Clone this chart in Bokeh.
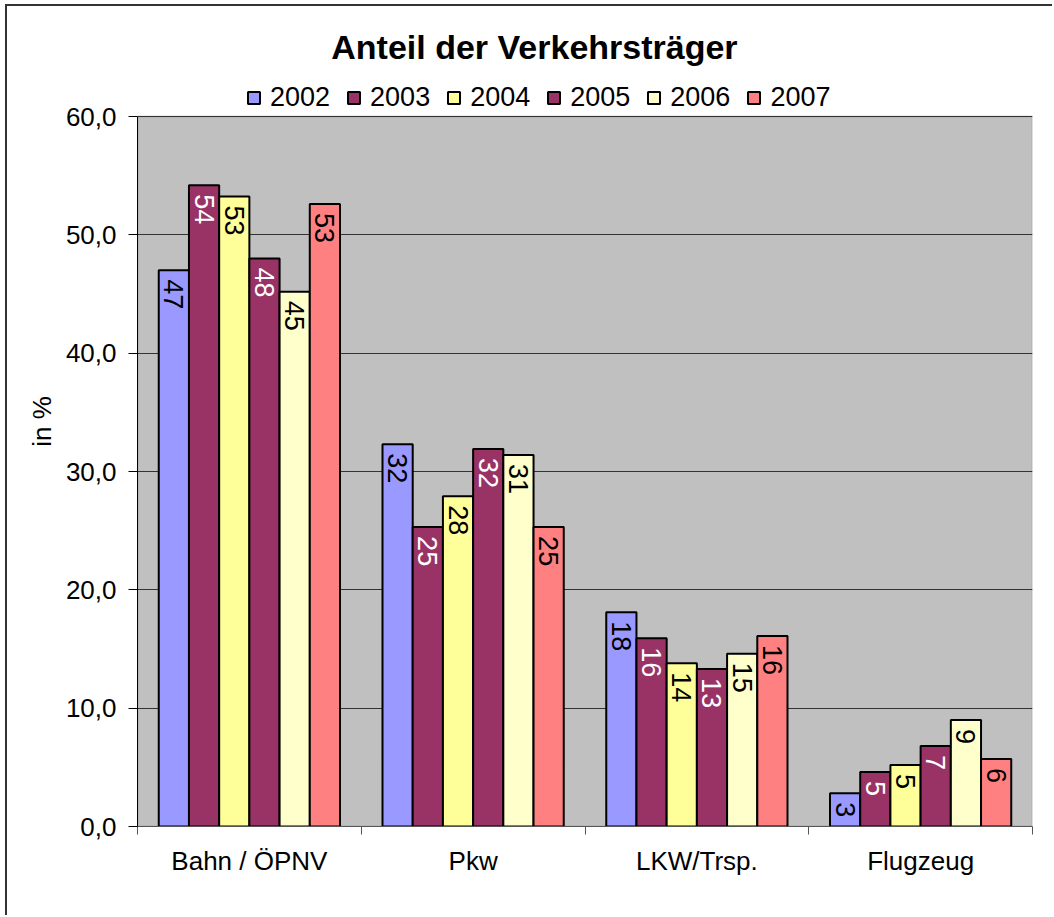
import math
import numpy as np
from bokeh.plotting import figure
from bokeh.models import (ColumnDataSource, Range1d, FixedTicker, CustomJSTickFormatter,
                          Legend, LegendItem, Label, BoxAnnotation)
from bokeh.transform import dodge
from bokeh.core.properties import value
from bokeh.embed import file_html
from bokeh.resources import INLINE

# ---- data ----
categories = ["Bahn / ÖPNV", "Pkw", "LKW/Trsp.", "Flugzeug"]
years = ["2002", "2003", "2004", "2005", "2006", "2007"]
v2002 = [47.0, 32.3, 18.1, 2.8]
v2003 = [54.2, 25.3, 15.9, 4.6]
v2004 = [53.25, 27.9, 13.8, 5.2]
v2005 = [48.0, 31.9, 13.3, 6.8]
v2006 = [45.2, 31.4, 14.6, 9.0]
v2007 = [52.6, 25.3, 16.1, 5.7]
y_ticks = [0, 10, 20, 30, 40, 50, 60]

series = [v2002, v2003, v2004, v2005, v2006, v2007]
colors = ["#9999FF", "#993366", "#FFFF99", "#993366", "#FFFFCC", "#FF8080"]
label_colors = ["black", "white", "black", "white", "black", "black"]

FONT = "Liberation Sans"

data = {"pos": [i + 0.5 for i in range(len(categories))]}
for y, vals in zip(years, series):
    data[y] = vals
    data["lab" + y] = [str(int(round(v))) for v in vals]
src = ColumnDataSource(data)

# layout (pixels): gray plotting area 710 px tall for 0..60; frame extended upward
Y_MAX = 60
PLOT_H = 710
EXTRA = 100  # white space inside the frame above the gray area (title + legend)
y_top = Y_MAX * (PLOT_H + EXTRA) / PLOT_H

p = figure(width=1047, height=911, output_backend="svg", toolbar_location=None,
           x_range=Range1d(0, len(categories)), y_range=Range1d(0, y_top),
           min_border_left=130, min_border_right=22, min_border_top=10, min_border_bottom=91)
p.styles = {"border-left": "2px solid #333333", "border-top": "2px solid #333333",
            "margin-left": "5px", "margin-top": "4px"}
p.background_fill_color = "white"
p.border_fill_color = "white"
p.outline_line_color = None

# gray plotting area
p.add_layout(BoxAnnotation(left=0, right=len(categories), bottom=0, top=Y_MAX,
                           fill_color="#C0C0C0", fill_alpha=1.0,
                           line_color="#808080", line_width=2, level="image"))

# grid
p.xgrid.grid_line_color = None
p.ygrid.ticker = FixedTicker(ticks=y_ticks)
p.ygrid.grid_line_color = "#333333"
p.ygrid.grid_line_width = 1

# y axis
p.yaxis.ticker = FixedTicker(ticks=y_ticks)
p.yaxis.bounds = (0, Y_MAX)
p.yaxis.formatter = CustomJSTickFormatter(code="return tick.toFixed(1).replace('.', ',');")
p.yaxis.major_label_text_font = FONT
p.yaxis.major_label_text_font_size = "26px"
p.yaxis.major_label_text_color = "black"
p.yaxis.major_tick_out = 9
p.yaxis.major_tick_in = 0
p.yaxis.minor_tick_line_color = None
p.yaxis.major_label_standoff = 12
p.yaxis.axis_line_color = "black"
p.yaxis.axis_line_width = 1
p.yaxis.axis_label = "in %"
p.yaxis.axis_label_text_font = FONT
p.yaxis.axis_label_text_font_style = "normal"
p.yaxis.axis_label_text_font_size = "26px"
p.yaxis.axis_label_text_color = "black"
p.yaxis.axis_label_standoff = 6

# x axis
centers = [i + 0.5 for i in range(len(categories))]
p.xaxis.ticker = FixedTicker(ticks=centers, minor_ticks=list(range(len(categories) + 1)))
p.xaxis.major_label_overrides = {c: name for c, name in zip(centers, categories)}
p.xaxis.major_tick_line_color = None
p.xaxis.major_tick_out = 0
p.xaxis.major_tick_in = 0
p.xaxis.minor_tick_line_color = "#555555"
p.xaxis.minor_tick_out = 8
p.xaxis.minor_tick_in = 0
p.xaxis.major_label_standoff = 11
p.xaxis.major_label_text_font = FONT
p.xaxis.major_label_text_font_size = "26px"
p.xaxis.major_label_text_color = "black"
p.xaxis.axis_line_color = "#555555"

# bars
bw = 0.135
items = []
for i, (y, c, lc) in enumerate(zip(years, colors, label_colors)):
    off = (i - 2.5) * bw
    r = p.vbar(x=dodge("pos", off), top=y, width=bw, source=src,
               fill_color=c, line_color="black", line_width=2)
    items.append(LegendItem(label=y, renderers=[r]))
    p.text(x=dodge("pos", off), y=y, text="lab" + y, source=src,
           angle=-math.pi / 2, text_align="left", text_baseline="middle",
           y_offset=9, text_color=lc, text_font=value(FONT), text_font_size="27px")

legend = Legend(items=items, orientation="horizontal", location=(109, PLOT_H + 3),
                background_fill_color="white", background_fill_alpha=1.0,
                border_line_color=None, glyph_width=15, glyph_height=15,
                label_text_font=FONT, label_text_font_size="27px",
                label_text_color="black",
                label_standoff=9, spacing=16, padding=9, margin=0,
                label_height=20)
p.add_layout(legend)

title = Label(x=1.774, y=Y_MAX * (PLOT_H + 70) / PLOT_H, text="Anteil der Verkehrsträger",
              text_font=FONT, text_font_size="34px", text_font_style="bold",
              text_align="center", text_baseline="middle", text_color="black")
p.add_layout(title)

open("out.html", "w").write(file_html(p, INLINE))
